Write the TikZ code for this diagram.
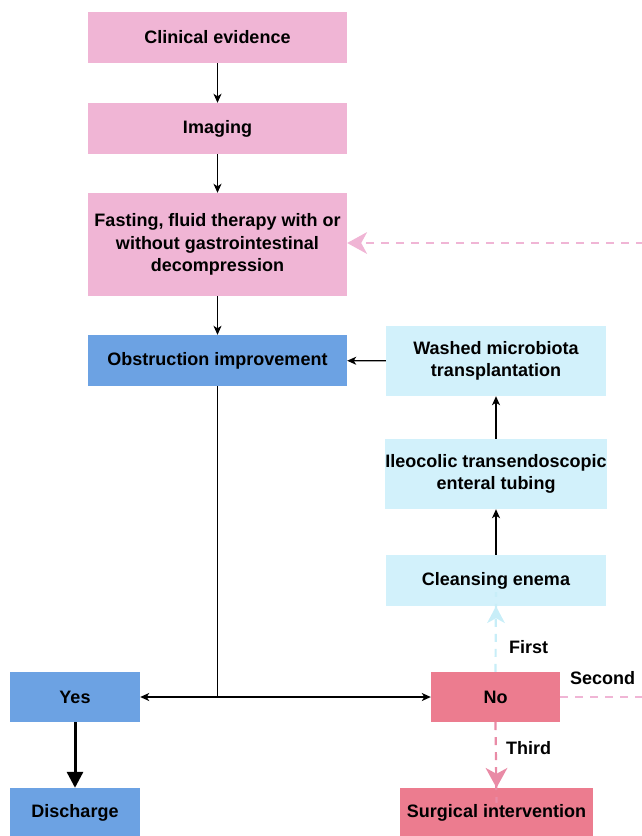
\documentclass[tikz,border=0pt]{standalone}
\usepackage{fontspec}
\setmainfont{Liberation Sans}
\usetikzlibrary{arrows.meta}
\definecolor{pinkbox}{HTML}{F0B5D5}
\definecolor{bluebox}{HTML}{6CA2E3}
\definecolor{lightbox}{HTML}{D2F1FB}
\definecolor{redbox}{HTML}{EC7C8F}
\definecolor{dashpink}{HTML}{F0B5D5}
\definecolor{dashred}{HTML}{E98BA6}
\definecolor{dashblue}{HTML}{C8EEF8}
\tikzset{
  box/.style={draw=none, inner sep=0pt, align=center, font=\bfseries\fontsize{18}{22.5}\selectfont},
  pinkb/.style={box, fill=pinkbox},
  blueb/.style={box, fill=bluebox},
  lightb/.style={box, fill=lightbox},
  redb/.style={box, fill=redbox},
  conn/.style={line width=1.3pt, -{Stealth[length=9pt,width=8pt,inset=2.5pt]}},
  dconn/.style={line width=2.2pt, dash pattern=on 8pt off 7pt},
  lbl/.style={font=\bfseries\fontsize{18}{20}\selectfont, inner sep=0pt}
}
\begin{document}
\begin{tikzpicture}[x=1pt,y=-1pt]
\useasboundingbox (0,0) rectangle (641,836);
\node[pinkb, minimum width=259pt, minimum height=51pt] (clin) at (217.5,37.5) {Clinical evidence};
\node[pinkb, minimum width=259pt, minimum height=51pt] (img) at (217.5,128.5) {Imaging};
\node[pinkb, minimum width=259pt, minimum height=103pt] (fast) at (217.5,244.5) {Fasting, fluid therapy with or\\without gastrointestinal\\decompression};
\node[blueb, minimum width=259pt, minimum height=51pt] (obs) at (217.5,360.5) {Obstruction improvement};
\node[lightb, minimum width=220pt, minimum height=70pt] (wash) at (496,361) {Washed microbiota\\transplantation};
\node[lightb, minimum width=220pt, minimum height=70pt] (ileo) at (496,474) {Ileocolic transendoscopic\\enteral tubing};
\node[lightb, minimum width=220pt, minimum height=51pt] (clean) at (496,580.5) {Cleansing enema};
\node[blueb, minimum width=130pt, minimum height=50pt] (yes) at (75,697) {Yes};
\node[redb, minimum width=129pt, minimum height=50pt] (no) at (495.5,697) {No};
\node[blueb, minimum width=130pt, minimum height=50pt] (dis) at (75,813) {Discharge};
\node[redb, minimum width=193pt, minimum height=50pt] (surg) at (496.5,813) {Surgical intervention};
\coordinate (junc) at (217.5,697);
\coordinate (rb) at (660,697);
\coordinate (rt) at (660,243);

\draw[conn] (clin) -- (img);
\draw[conn] (img) -- (fast);
\draw[conn] (fast) -- (obs);
\draw[conn] (wash) -- (obs);
\draw[conn] (ileo) -- (wash);
\draw[conn] (clean) -- (ileo);
\draw[line width=1.3pt] (obs.south) -- (junc);
\draw[conn] (junc) -- (yes);
\draw[conn] (junc) -- (no);
\draw[line width=3pt, -{Triangle[length=16pt,width=16pt]}] (yes) -- (dis);

\draw[dconn, dashblue] (no.north) -- ([yshift=14pt]clean.south);
\fill[dashblue] (clean.south) -- ++(-9,17) -- ++(9,-5) -- ++(9,5) -- cycle;
\draw[dconn, dashred] (no.south) -- ([yshift=-15pt]surg.north);
\fill[dashred] (surg.north) -- ++(-11,-20) -- ++(11,6) -- ++(11,-6) -- cycle;
\draw[dconn, dashpink] (no.east) -- (rb) -- (rt) -- ([xshift=18pt]fast.east |- rt);
\fill[dashpink] (fast.east |- rt) -- ++(20,-11) -- ++(-6,11) -- ++(6,11) -- cycle;

\node[lbl, anchor=west] (first) at (509,647) {First};
\node[lbl, anchor=west] (third) at (506,748) {Third};
\node[lbl, anchor=west] (second) at (570,678) {Second};
\end{tikzpicture}
\end{document}
